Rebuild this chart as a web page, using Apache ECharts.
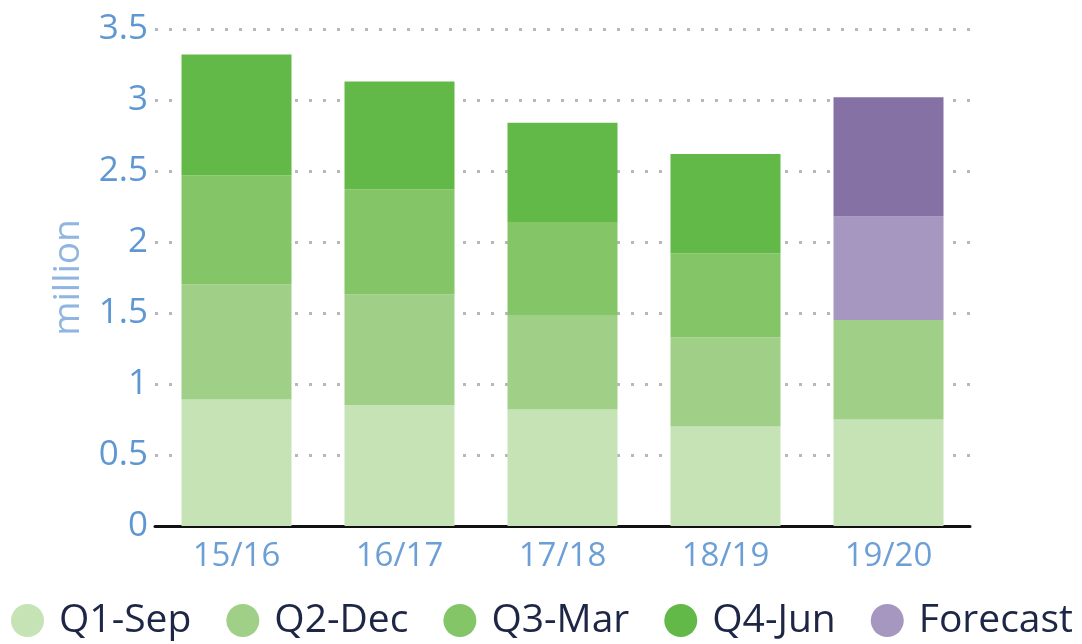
<!DOCTYPE html>
<html>
<head>
<meta charset="utf-8">
<style>
  html, body { margin: 0; padding: 0; background: #fff; }
  #chart { width: 1082px; height: 644px; }
</style>
<script src="https://cdn.jsdelivr.net/npm/echarts@6/dist/echarts.min.js"></script>
</head>
<body>
<div id="chart"></div>
<script>
// 数据
var years = ['15/16', '16/17', '17/18', '18/19', '19/20'];
var q1Sep = [0.89, 0.85, 0.82, 0.70, 0.75];
var q2Dec = [0.81, 0.78, 0.66, 0.63, 0.70];
var q3Mar = [0.77, 0.74, 0.66, 0.59, null];
var q4Jun = [0.85, 0.76, 0.70, 0.70, null];
var forecastLow = [null, null, null, null, 0.73];
var forecastHigh = [null, null, null, null, 0.84];

(function(){
  var myChart = echarts.init(document.getElementById('chart'));
  var fontName = 'Open Sans';
  var option = {
    animation: false,
    grid: {
      left: 155,
      right: 112,
      top: 29,
      bottom: 118
    },
    legend: {
      left: 6,
      bottom: -1,
      icon: 'circle',
      itemWidth: 33,
      itemHeight: 33,
      itemGap: 35,
      data: ['Q1-Sep', 'Q2-Dec', 'Q3-Mar', 'Q4-Jun', 'Forecast'],
      textStyle: {
        fontFamily: fontName,
        fontSize: 39,
        color: '#1e2646',
        padding: [0, 0, 0, 10]
      }
    },
    xAxis: {
      type: 'category',
      data: years,
      axisTick: { show: false },
      axisLine: {
        lineStyle: { color: '#111', width: 3 }
      },
      axisLabel: {
        color: '#6c9fd6',
        fontFamily: fontName,
        fontSize: 33,
        margin: 14
      }
    },
    yAxis: {
      type: 'value',
      min: 0,
      max: 3.5,
      interval: 0.5,
      name: 'million',
      nameLocation: 'middle',
      nameGap: 68,
      nameRotate: 90,
      nameTextStyle: {
        color: '#8fb5e0',
        fontFamily: fontName,
        fontSize: 37
      },
      axisLine: { show: false },
      axisTick: { show: false },
      axisLabel: {
        color: '#5f97d3',
        fontFamily: fontName,
        fontSize: 35,
        margin: 7
      },
      splitLine: {
        lineStyle: {
          color: '#b8b8b8',
          width: 3,
          type: [3, 11]
        }
      }
    },
    series: [
      {
        name: 'Q1-Sep', type: 'bar', stack: 'all', barWidth: 110,
        data: q1Sep, itemStyle: { color: '#c6e3b6' }
      },
      {
        name: 'Q2-Dec', type: 'bar', stack: 'all',
        data: q2Dec, itemStyle: { color: '#a0cf87' }
      },
      {
        name: 'Q3-Mar', type: 'bar', stack: 'all',
        data: q3Mar, itemStyle: { color: '#84c567' }
      },
      {
        name: 'Q4-Jun', type: 'bar', stack: 'all',
        data: q4Jun, itemStyle: { color: '#63b947' }
      },
      {
        name: 'Forecast', type: 'bar', stack: 'all',
        data: forecastLow, itemStyle: { color: '#a697c0' }
      },
      {
        name: 'Forecast (upper)', type: 'bar', stack: 'all',
        data: forecastHigh, itemStyle: { color: '#8671a5' }
      }
    ]
  };
  myChart.setOption(option);
  window.addEventListener('resize', function(){
    myChart.resize();
  });
})();
</script>
</body>
</html>
